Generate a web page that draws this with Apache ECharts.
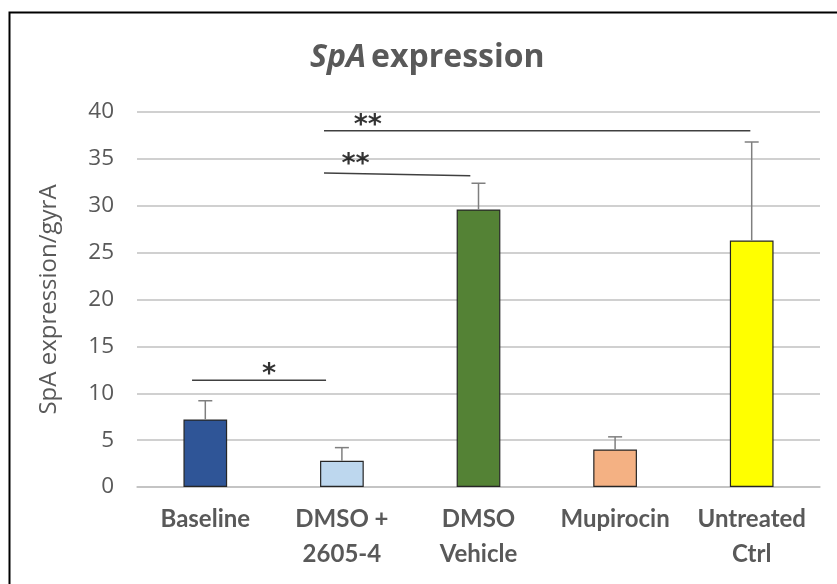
<!DOCTYPE html>
<html><head><meta charset="utf-8">
<script src="https://cdn.jsdelivr.net/npm/echarts@6/dist/echarts.min.js"></script>
<style>html,body{margin:0;padding:0;background:#fff}#c{width:837px;height:584px}</style>
</head><body><div id="c"></div>
<script>
const categories = ['Baseline', 'DMSO +\n2605-4', 'DMSO\nVehicle', 'Mupirocin', 'Untreated\nCtrl'];
const values = [7.2, 2.8, 29.6, 4.0, 26.3];
const errors = [2.0, 1.4, 2.8, 1.35, 10.5];
const barColors = ['#2F5597', '#BDD7EE', '#548235', '#F4B183', '#FFFF00'];
const yMin = 0, yMax = 40, yStep = 5;
// significance brackets, x in category units (0 = first category centre)
const bracketX = [[-0.097, 0.884], [0.869, 1.94], [0.869, 3.99]];
const bracketY = [[11.4, 11.4], [33.5, 33.2], [38.0, 38.0]];
const starText = ['*', '**', '**'];
const starX = [0.466, 1.10, 1.19];
const starY = [11.9, 34.3, 38.5];

const textGray = '#595959';
const chart = echarts.init(document.getElementById('c'));

const bracketSeries = bracketX.map((bx, k) => ({
  type: 'line', xAxisIndex: 1, yAxisIndex: 0, silent: true, symbol: 'none', z: 5,
  lineStyle: { color: '#404040', width: 1.5 },
  data: [[bx[0], bracketY[k][0]], [bx[1], bracketY[k][1]]]
}));

chart.setOption({
  animation: false,
  backgroundColor: '#fff',
  title: {
    text: '{i|SpA} {b|expression}',
    left: 305, top: 37,
    textStyle: {
      rich: {
        i: { fontFamily: 'Open Sans', fontSize: 32, fontWeight: 'bold', fontStyle: 'italic', color: textGray },
        b: { fontFamily: 'Open Sans', fontSize: 32, fontWeight: 'bold', color: textGray }
      }
    }
  },
  graphic: [{
    type: 'rect', left: 7, top: 10, silent: true, z: 100,
    shape: { width: 900, height: 700 },
    style: { fill: 'none', stroke: '#000', lineWidth: 2 }
  }],
  grid: { left: 137, right: 17, top: 112, bottom: 97 },
  xAxis: [{
    type: 'category', data: categories,
    axisLine: { show: true, lineStyle: { color: '#C0C0C0', width: 1.5 } },
    axisTick: { show: false },
    axisLabel: { color: textGray, fontFamily: 'Lato', fontWeight: 'bold', fontSize: 24, lineHeight: 35, margin: 15, interval: 0 }
  }, {
    type: 'value', min: -0.5, max: 4.5, show: false
  }],
  yAxis: {
    type: 'value', min: yMin, max: yMax, interval: yStep,
    name: 'SpA expression/gyrA', nameLocation: 'middle', nameGap: 76,
    nameTextStyle: { color: textGray, fontFamily: 'Open Sans', fontSize: 24 },
    axisLine: { show: false }, axisTick: { show: false },
    axisLabel: { color: textGray, fontFamily: 'Open Sans', fontSize: 22.5, margin: 23 },
    splitLine: { lineStyle: { color: '#C0C0C0', width: 1.5 } }
  },
  series: [{
    type: 'bar', barCategoryGap: '68%', z: 2,
    data: values.map((v, i) => ({ value: v, itemStyle: { color: barColors[i], borderColor: '#262626', borderWidth: 1.2 } }))
  }, {
    type: 'custom', z: 3, silent: true,
    data: values.map((v, i) => [i, v, v + errors[i]]),
    renderItem: function (params, api) {
      const x = api.value(0);
      const p1 = api.coord([x, api.value(1)]);
      const p2 = api.coord([x, api.value(2)]);
      const st = { stroke: '#7F7F7F', lineWidth: 1.5 };
      return { type: 'group', children: [
        { type: 'line', shape: { x1: p1[0], y1: p1[1], x2: p2[0], y2: p2[1] }, style: st },
        { type: 'line', shape: { x1: p2[0] - 7, y1: p2[1], x2: p2[0] + 7, y2: p2[1] }, style: st }
      ] };
    }
  }].concat(bracketSeries).concat([{
    type: 'scatter', xAxisIndex: 1, yAxisIndex: 0, symbolSize: 0, silent: true, z: 6,
    data: starX.map((x, k) => ({ value: [x, starY[k]], label: { show: true, formatter: starText[k] } })),
    label: { position: 'inside', color: '#000', fontFamily: 'DejaVu Sans', fontWeight: 'bold', fontSize: 27 }
  }])
});
</script></body></html>
